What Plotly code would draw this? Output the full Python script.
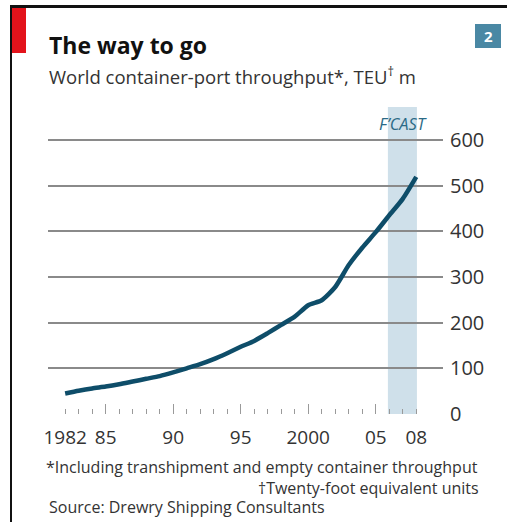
import plotly.graph_objects as go

# ---- data ----
years = list(range(1982, 2009))
throughput = [45, 51, 56, 60, 65, 71, 77, 83, 91, 100, 109, 120, 133, 147, 160,
              177, 195, 213, 238, 249, 278, 326, 364, 398, 435, 471, 519]
major_ticks = [1985, 1990, 1995, 2000, 2005]
label_ticks = [1982, 1985, 1990, 1995, 2000, 2005, 2008]
label_text = ["1982", "85", "90", "95", "2000", "05", "08"]
y_ticks = [0, 100, 200, 300, 400, 500, 600]
forecast_start, forecast_end = 2005.9, 2008.05

W, H = 507, 522
L, R, T, B = 48, 64, 107, 108
PW, PH = W - L - R, H - T - B
FONT = "Open Sans"


def px(x):
    return (x - L) / PW


def py(y):
    return (H - B - y) / PH


fig = go.Figure()
fig.add_trace(go.Scatter(x=years, y=throughput, mode="lines",
                         line=dict(color="#0e4d69", width=4.5, shape="spline", smoothing=0.6),
                         hoverinfo="skip", showlegend=False))
fig.add_trace(go.Scatter(x=[years[0]], y=[throughput[0]], xaxis="x2", mode="markers",
                         marker=dict(opacity=0), hoverinfo="skip", showlegend=False))

minor_vals = [y for y in years if y not in label_ticks]

fig.update_layout(
    width=W, height=H,
    margin=dict(l=L, r=R, t=T, b=B),
    paper_bgcolor="white", plot_bgcolor="white",
    font=dict(family=FONT, color="#333333"),
    xaxis=dict(range=[1980.73, 2009.98], showgrid=False, zeroline=False, showline=False,
               tickmode="array", tickvals=label_ticks, ticktext=label_text,
               ticks="inside", ticklen=5, tickcolor="#9a9a9a", tickwidth=1,
               ticklabelstandoff=10,
               tickfont=dict(size=19, color="#333333"),
               minor=dict(tickmode="array", tickvals=minor_vals, ticks="inside",
                          ticklen=5, tickcolor="#9a9a9a", tickwidth=1, showgrid=False)),
    xaxis2=dict(range=[1980.73, 2009.98], overlaying="x", anchor="y", side="bottom",
                showgrid=False, zeroline=False, showline=False,
                tickmode="array", tickvals=major_ticks, showticklabels=False,
                ticks="inside", ticklen=10, tickcolor="#9a9a9a", tickwidth=1),
    yaxis=dict(range=[0, 672], side="right", tickmode="array", tickvals=y_ticks,
               showgrid=True, gridcolor="#8a8a8a", gridwidth=1.6, zeroline=False,
               showline=False, ticks="", ticklabelstandoff=6,
               tickfont=dict(size=20, color="#333333")),
    showlegend=False,
)

# forecast band
fig.add_shape(type="rect", xref="x", yref="y", x0=forecast_start, x1=forecast_end,
              y0=0, y1=672, fillcolor="#cfe0ea", line=dict(width=0), layer="below")

# frame lines and red tag
fig.add_shape(type="rect", xref="paper", yref="paper", x0=px(10), x1=px(12), y0=py(5), y1=py(522),
              fillcolor="#111111", line=dict(width=0))
fig.add_shape(type="rect", xref="paper", yref="paper", x0=px(10), x1=px(507), y0=py(5), y1=py(8),
              fillcolor="#111111", line=dict(width=0))
fig.add_shape(type="rect", xref="paper", yref="paper", x0=px(12), x1=px(26), y0=py(8), y1=py(53),
              fillcolor="#e3131b", line=dict(width=0))
# chart number box
fig.add_shape(type="rect", xref="paper", yref="paper", x0=px(475), x1=px(501), y0=py(24), y1=py(48),
              fillcolor="#4a88a4", line=dict(width=0))

ann = [
    dict(text="<b>The way to go</b>", x=px(47), y=py(45), xanchor="left", yanchor="middle",
         font=dict(size=23, color="#111111")),
    dict(text="World container-port throughput*, TEU<sup>†</sup> m", x=px(47), y=py(76),
         xanchor="left", yanchor="middle", font=dict(size=18.5, color="#333333")),
    dict(text="<b>2</b>", x=px(488), y=py(36), xanchor="center", yanchor="middle",
         font=dict(size=15, color="white")),
    dict(text="<i>F’CAST</i>", x=px(403), y=py(123), xanchor="center", yanchor="middle",
         font=dict(size=16.5, color="#2b6a86")),
    dict(text="*Including transhipment and empty container throughput", x=px(44), y=py(467),
         xanchor="left", yanchor="middle", font=dict(size=16, color="#333333")),
    dict(text="†Twenty-foot equivalent units", x=px(481), y=py(488),
         xanchor="right", yanchor="middle", font=dict(size=16, color="#333333")),
    dict(text="Source: Drewry Shipping Consultants", x=px(47), y=py(507),
         xanchor="left", yanchor="middle", font=dict(size=16, color="#333333")),
]
for a in ann:
    fig.add_annotation(xref="paper", yref="paper", showarrow=False, **a)

fig.write_html("out.html", config={"displayModeBar": False},
               post_script="document.body.style.margin='0';document.body.style.overflow='hidden';")
